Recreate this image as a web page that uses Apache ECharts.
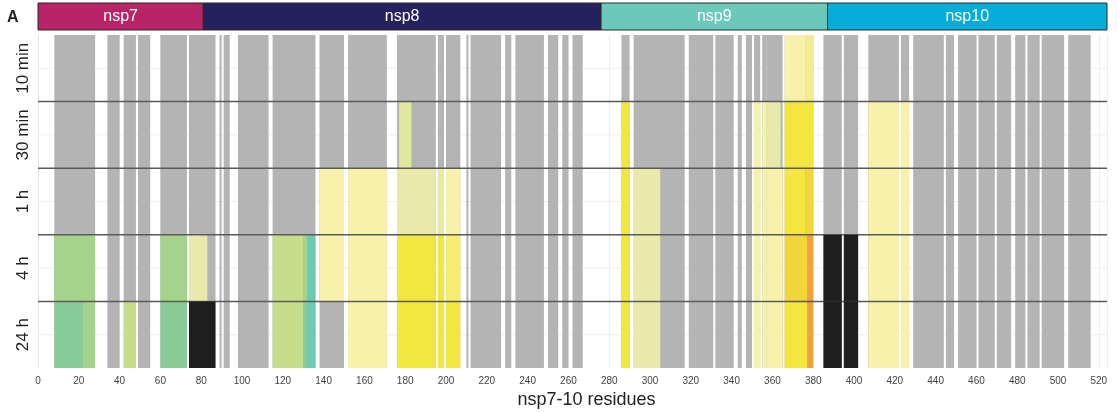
<!DOCTYPE html>
<html>
<head>
<meta charset="utf-8">
<script src="https://cdn.jsdelivr.net/npm/echarts@6/dist/echarts.min.js"></script>
<style>
  html, body { margin: 0; padding: 0; background: #fff; }
  #chart { width: 1118px; height: 412px; }
</style>
</head>
<body>
<div id="chart"></div>
<script>
var rows = ['10 min', '30 min', '1 h', '4 h', '24 h'];

var domainNames = ['nsp7', 'nsp8', 'nsp9', 'nsp10'];
var domainStart = [0, 81, 276, 387];
var domainEnd = [81, 276, 387, 524];

// peptide coverage (same for every time point)
var segStart = [8, 34, 42, 49, 60, 74, 89, 91, 98, 115, 138, 152, 176, 196, 200, 210, 212, 229, 234, 250, 257, 262,
  286, 292, 319, 332, 343, 347, 351, 355, 357, 366, 385, 395, 407, 423, 429, 445, 451, 461, 470, 479, 485, 492, 505];
var segEnd = [28, 40, 48, 55, 73, 87, 90, 94, 113, 136, 150, 171, 195, 199, 207, 211, 227, 232, 248, 255, 260, 267,
  290, 317, 331, 341, 345, 350, 354, 357, 365, 380, 394, 402, 422, 427, 444, 449, 460, 469, 477, 484, 491, 503, 516];

// uptake differences per time point: [from, to, class]
var diff10min = [[366, 376, 'pale'], [376, 380, 'paleDeep']];
var diff30min = [[177, 183, 'limeB'], [286, 290, 'yel'], [351, 354, 'pale'], [355, 357, 'pale'], [357, 364, 'lime'],
  [366, 380, 'yel'], [407, 422, 'pale'], [423, 427, 'pale']];
var diff1h = [[138, 150, 'pale'], [152, 171, 'pale'], [176, 195, 'lime'], [196, 199, 'lime'], [200, 207, 'pale'],
  [286, 290, 'yel'], [292, 305, 'lime'], [351, 354, 'pale'], [355, 357, 'pale'], [357, 365, 'pale'],
  [366, 376, 'yel'], [376, 380, 'yelOr'], [407, 422, 'pale'], [423, 427, 'pale']];
var diff4h = [[8, 28, 'green'], [60, 73, 'green'], [74, 83, 'lime'], [115, 130, 'ygreen'], [130, 132, 'green'],
  [132, 136, 'teal'], [138, 150, 'pale'], [152, 171, 'pale'], [176, 195, 'yel'], [196, 199, 'yel'], [200, 207, 'yel2'],
  [286, 290, 'yel'], [292, 305, 'lime'], [351, 354, 'pale'], [355, 357, 'pale'], [357, 365, 'pale'],
  [366, 377, 'yelOr'], [377, 380, 'org'], [385, 394, 'black'], [395, 402, 'black'], [407, 422, 'pale'], [423, 427, 'pale']];
var diff24h = [[8, 22, 'green2'], [22, 28, 'green'], [42, 48, 'ygreen'], [60, 73, 'green2'], [74, 87, 'black'],
  [115, 130, 'ygreen'], [130, 132, 'green2'], [132, 136, 'teal'], [152, 171, 'pale'], [176, 195, 'yel'],
  [196, 199, 'yel'], [200, 207, 'yel'], [286, 290, 'yel'], [292, 305, 'lime'], [351, 354, 'pale'], [355, 357, 'pale'],
  [357, 365, 'pale'], [366, 377, 'yel'], [377, 380, 'org'], [385, 394, 'black'], [395, 402, 'black'],
  [407, 422, 'pale'], [423, 427, 'pale']];
var diffs = [diff10min, diff30min, diff1h, diff4h, diff24h];

var palette = {
  gray: '#b4b4b4', pale: '#f7f1ac', paleDeep: '#f5ec90', lime: '#e9eaaa', limeB: '#e1e79b',
  yel: '#f4e641', yel2: '#f5ec70', yelOr: '#f1d53a', org: '#f3a13e', ygreen: '#c6de8b',
  green: '#a5d38b', green2: '#89ca99', teal: '#6ec9b2', black: '#1e1e1e'
};
var domainColors = ['#b92367', '#25215f', '#6dc8bc', '#05add8'];
var font = 'Liberation Sans, Arial, sans-serif';

(function () {
  var dom = document.getElementById('chart');
  var myChart = echarts.init(dom);

  var cells = [], cellCls = [];
  var blacks = [];
  rows.forEach(function (r, ri) {
    for (var i = 0; i < segStart.length; i++) {
      cells.push([segStart[i], segEnd[i], ri]);
      cellCls.push('gray');
    }
    diffs[ri].forEach(function (d) {
      if (d[2] === 'black') {
        blacks.push([d[0], d[1], ri]);
      } else {
        cells.push([d[0], d[1], ri]);
        cellCls.push(d[2]);
      }
    });
  });

  function rectOf(api) {
    var p0 = api.coord([api.value(0), api.value(2)]);
    var p1 = api.coord([api.value(1), api.value(2)]);
    var h = api.size([0, 1])[1];
    return { x: p0[0], y: p0[1] - h / 2, width: p1[0] - p0[0], height: h };
  }

  var option = {
    animation: false,
    textStyle: { fontFamily: font },
    grid: [
      { left: 38, right: 11, top: 35, bottom: 44, outerBoundsMode: 'none', containLabel: false },
      { left: 38, right: 11, top: 3, height: 27, outerBoundsMode: 'none', containLabel: false }
    ],
    graphic: [{ type: 'text', left: 7, top: 10, style: { text: 'A', font: 'bold 16px ' + font, fill: '#222' } }],
    xAxis: [
      {
        type: 'value', gridIndex: 0, min: 0, max: 524, interval: 20,
        axisLine: { lineStyle: { color: '#cfcfcf' } },
        axisTick: { length: 4, lineStyle: { color: '#bbb' } },
        axisLabel: { fontSize: 10, color: '#444', margin: 8, formatter: function (v) { return v % 20 === 0 ? v : ''; } },
        splitLine: { lineStyle: { color: '#efefef' } },
        name: 'nsp7-10 residues', nameLocation: 'middle', nameGap: 21,
        nameTextStyle: { fontSize: 18, color: '#222', padding: [0, 0, 0, 28] }
      },
      { type: 'value', gridIndex: 1, min: 0, max: 524, show: false }
    ],
    yAxis: [
      {
        type: 'category', gridIndex: 0, data: rows, inverse: true,
        axisLine: { lineStyle: { color: '#e2e2e2' } },
        axisTick: { show: false },
        axisLabel: { interval: 0, rotate: 90, fontSize: 17, color: '#222', margin: 6 },
        splitLine: { show: false }
      },
      { type: 'category', gridIndex: 1, data: ['domain'], show: false }
    ],
    series: [
      {
        type: 'custom', name: 'guides', z: 1, silent: true,
        data: rows.map(function (r, i) { return [0, 524, i]; }),
        encode: { x: [0, 1], y: 2 },
        renderItem: function (params, api) {
          var a = api.coord([api.value(0), api.value(2)]);
          var b = api.coord([api.value(1), api.value(2)]);
          return { type: 'line', shape: { x1: a[0], y1: a[1], x2: b[0], y2: b[1] }, style: { stroke: '#f0f0f0', lineWidth: 1 } };
        }
      },
      {
        type: 'custom', name: 'cells', z: 2,
        data: cells,
        encode: { x: [0, 1], y: 2 },
        renderItem: function (params, api) {
          return { type: 'rect', shape: rectOf(api), style: { fill: palette[cellCls[params.dataIndex]] } };
        }
      },
      {
        type: 'custom', name: 'separators', z: 3, silent: true,
        data: [[0, 524, 1], [0, 524, 2], [0, 524, 3], [0, 524, 4]],
        encode: { x: [0, 1], y: 2 },
        renderItem: function (params, api) {
          var r = rectOf(api);
          return { type: 'line', shape: { x1: r.x, y1: r.y, x2: r.x + r.width, y2: r.y }, style: { stroke: '#5a5a5a', lineWidth: 1.5 } };
        }
      },
      {
        type: 'custom', name: 'black', z: 4,
        data: blacks,
        encode: { x: [0, 1], y: 2 },
        renderItem: function (params, api) {
          return { type: 'rect', shape: rectOf(api), style: { fill: palette.black } };
        }
      },
      {
        type: 'custom', name: 'domains', xAxisIndex: 1, yAxisIndex: 1, z: 2,
        data: domainNames.map(function (n, i) { return [domainStart[i], domainEnd[i], 0]; }),
        encode: { x: [0, 1], y: 2 },
        renderItem: function (params, api) {
          var r = rectOf(api);
          return {
            type: 'rect', shape: r,
            style: { fill: domainColors[params.dataIndex], stroke: '#2b2b2b', lineWidth: 1 },
            textContent: { style: { text: domainNames[params.dataIndex], fill: '#fff', fontSize: 16, fontFamily: font } },
            textConfig: { position: 'inside' }
          };
        }
      }
    ]
  };
  myChart.setOption(option, true);
})();
</script>
</body>
</html>
